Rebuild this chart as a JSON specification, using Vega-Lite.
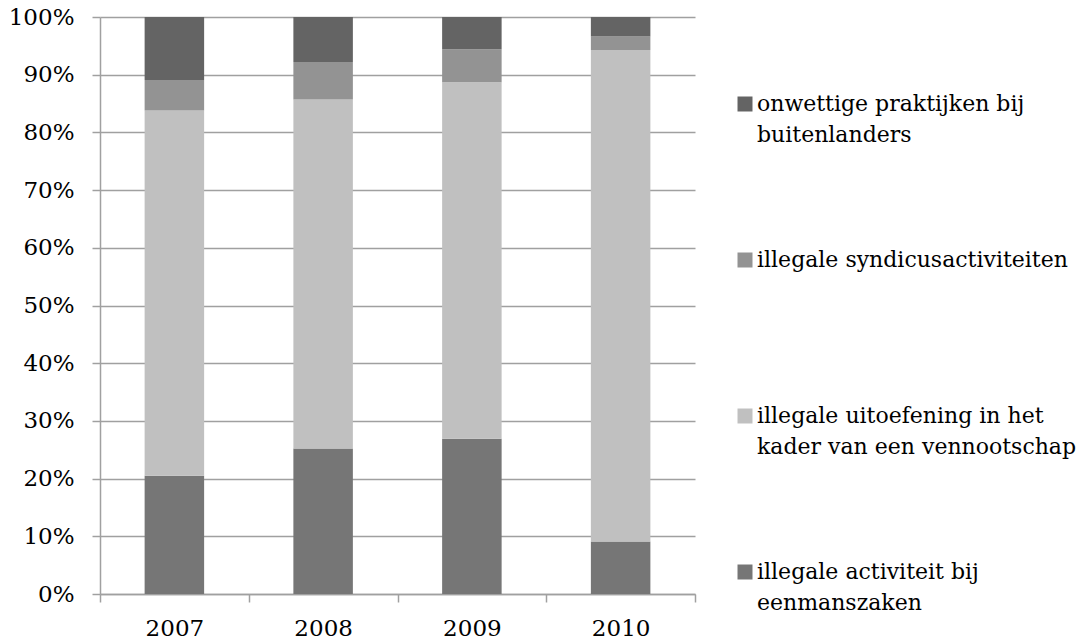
{
  "$schema": "https://vega.github.io/schema/vega-lite/v6.json",
  "autosize": "none",
  "width": 595,
  "height": 577,
  "padding": {"left": 100, "top": 17, "right": 388, "bottom": 50},
  "background": "white",
  "config": {
    "view": {"stroke": null},
    "font": "DejaVu Serif"
  },
  "data": {
    "values": [
      {"jaar": "2007", "categorie": "illegale activiteit bij eenmanszaken", "k": 1, "waarde": 20.5},
      {"jaar": "2007", "categorie": "illegale uitoefening in het kader van een vennootschap", "k": 2, "waarde": 63.3},
      {"jaar": "2007", "categorie": "illegale syndicusactiviteiten", "k": 3, "waarde": 5.3},
      {"jaar": "2007", "categorie": "onwettige praktijken bij buitenlanders", "k": 4, "waarde": 10.9},
      {"jaar": "2008", "categorie": "illegale activiteit bij eenmanszaken", "k": 1, "waarde": 25.2},
      {"jaar": "2008", "categorie": "illegale uitoefening in het kader van een vennootschap", "k": 2, "waarde": 60.5},
      {"jaar": "2008", "categorie": "illegale syndicusactiviteiten", "k": 3, "waarde": 6.5},
      {"jaar": "2008", "categorie": "onwettige praktijken bij buitenlanders", "k": 4, "waarde": 7.8},
      {"jaar": "2009", "categorie": "illegale activiteit bij eenmanszaken", "k": 1, "waarde": 26.9},
      {"jaar": "2009", "categorie": "illegale uitoefening in het kader van een vennootschap", "k": 2, "waarde": 61.8},
      {"jaar": "2009", "categorie": "illegale syndicusactiviteiten", "k": 3, "waarde": 5.7},
      {"jaar": "2009", "categorie": "onwettige praktijken bij buitenlanders", "k": 4, "waarde": 5.6},
      {"jaar": "2010", "categorie": "illegale activiteit bij eenmanszaken", "k": 1, "waarde": 9.1},
      {"jaar": "2010", "categorie": "illegale uitoefening in het kader van een vennootschap", "k": 2, "waarde": 85.2},
      {"jaar": "2010", "categorie": "illegale syndicusactiviteiten", "k": 3, "waarde": 2.3},
      {"jaar": "2010", "categorie": "onwettige praktijken bij buitenlanders", "k": 4, "waarde": 3.4}
    ]
  },
  "mark": {"type": "bar", "width": {"band": 0.4}},
  "encoding": {
    "x": {
      "field": "jaar",
      "type": "nominal",
      "scale": {"paddingInner": 0, "paddingOuter": 0},
      "axis": {
        "title": null,
        "labelAngle": 0,
        "tickBand": "extent",
        "domainColor": "#a0a0a0",
        "domainWidth": 1.5,
        "tickColor": "#a0a0a0",
        "tickWidth": 1.5,
        "tickSize": 8,
        "labelPadding": 15,
        "labelFont": "DejaVu Serif",
        "labelFontSize": 23,
        "labelColor": "#000000"
      }
    },
    "y": {
      "field": "waarde",
      "type": "quantitative",
      "stack": "normalize",
      "scale": {"domain": [0, 1]},
      "axis": {
        "title": null,
        "values": [0, 0.1, 0.2, 0.3, 0.4, 0.5, 0.6, 0.7, 0.8, 0.9, 1],
        "format": ".0%",
        "grid": true,
        "gridColor": "#a0a0a0",
        "gridWidth": 1.5,
        "domainColor": "#a0a0a0",
        "domainWidth": 1.5,
        "tickColor": "#a0a0a0",
        "tickWidth": 1.5,
        "tickSize": 8,
        "labelPadding": 18,
        "labelFont": "DejaVu Serif",
        "labelFontSize": 23,
        "labelColor": "#000000"
      }
    },
    "color": {
      "field": "categorie",
      "type": "nominal",
      "scale": {
        "domain": [
          "onwettige praktijken bij buitenlanders",
          "illegale syndicusactiviteiten",
          "illegale uitoefening in het kader van een vennootschap",
          "illegale activiteit bij eenmanszaken"
        ],
        "range": ["#646464", "#939393", "#c0c0c0", "#767676"]
      },
      "legend": {
        "title": null,
        "orient": "none",
        "legendX": 634,
        "legendY": 76,
        "symbolType": "square",
        "symbolSize": 225,
        "symbolStrokeWidth": 0,
        "labelFont": "DejaVu Serif",
        "labelFontSize": 22,
        "labelColor": "#000000",
        "labelLimit": 0,
        "labelOffset": 1,
        "rowPadding": 103,
        "labelExpr": "datum.label == 'onwettige praktijken bij buitenlanders' ? ['onwettige praktijken bij', 'buitenlanders'] : datum.label == 'illegale uitoefening in het kader van een vennootschap' ? ['illegale uitoefening in het', 'kader van een vennootschap'] : datum.label == 'illegale activiteit bij eenmanszaken' ? ['illegale activiteit bij', 'eenmanszaken'] : [datum.label, ' ']",
        "encode": {"labels": {"update": {"lineHeight": {"value": 31}}}}
      }
    },
    "order": {"field": "k", "type": "quantitative", "sort": "ascending"}
  }
}
